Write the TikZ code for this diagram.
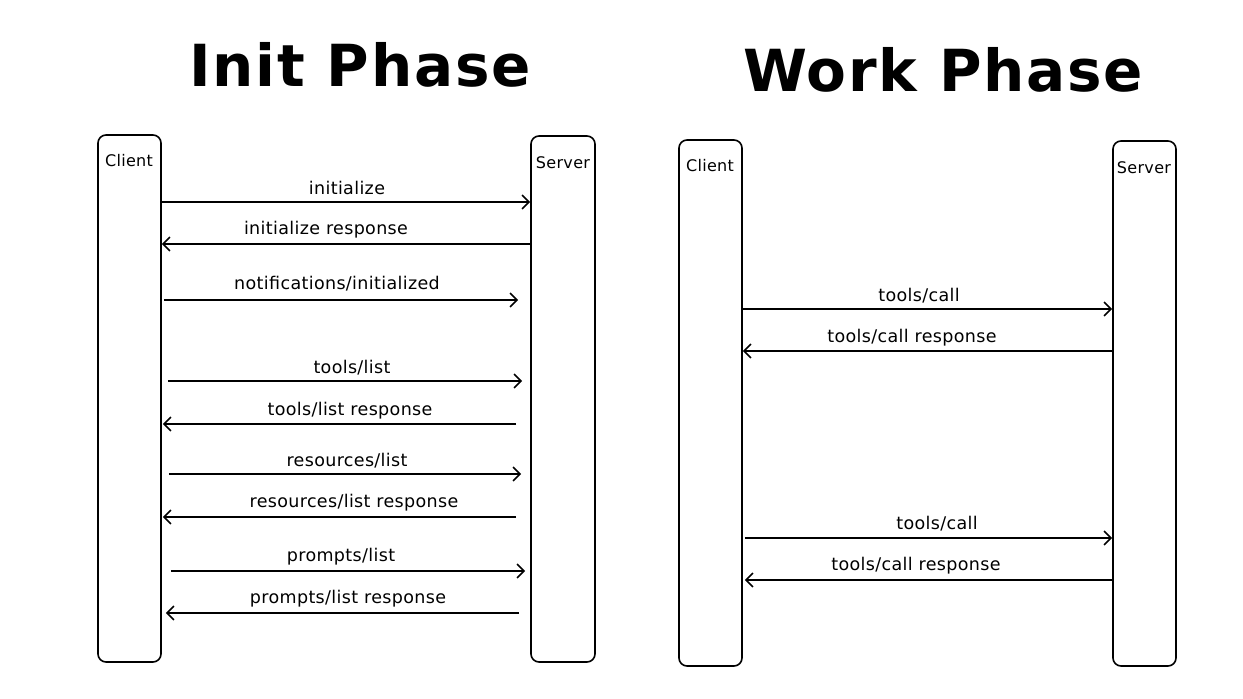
\documentclass[tikz,border=0pt]{standalone}
\usepackage{fontspec}
\setmainfont{DejaVu Sans}
\usetikzlibrary{arrows.meta}
\begin{document}
\begin{tikzpicture}[x=1pt,y=-1pt,
  life/.style={draw,line width=1.6pt,rounded corners=8pt,inner sep=0pt},
  msg/.style={line width=1.6pt,-{Straight Barb[length=7pt,width=14pt,line width=1.6pt]}},
  lbl/.style={font=\fontsize{17.5}{19}\selectfont\addfontfeature{LetterSpace=2},anchor=base},
  who/.style={font=\fontsize{16}{18}\selectfont\addfontfeature{LetterSpace=2}},
  ttl/.style={font=\fontsize{58}{64}\selectfont\bfseries\addfontfeature{LetterSpace=3}}]
\useasboundingbox (0,0) rectangle (1243,699);
\node[ttl] (t1) at (360,65) {Init Phase};
\node[ttl] (t2) at (943,70) {Work Phase};
\node[life,minimum width=63pt,minimum height=527pt] (c1) at (129.5,398.5) {};
\node[life,minimum width=64pt,minimum height=526pt] (s1) at (563,399) {};
\node[life,minimum width=63pt,minimum height=526pt] (c2) at (710.5,403) {};
\node[life,minimum width=63pt,minimum height=525pt] (s2) at (1144.5,403.5) {};
\node[who] (cl1) at (129,161) {Client};
\node[who] (sl1) at (563,163) {Server};
\node[who] (cl2) at (710,166) {Client};
\node[who] (sl2) at (1144,168) {Server};
% init arrows
\draw[msg] (c1.east |- 0,202) -- (s1.west |- 0,202);
\node[lbl] (l1) at (347,194) {initialize};
\draw[msg] (s1.west |- 0,244) -- (c1.east |- 0,244);
\node[lbl] (l2) at (326,234) {initialize response};
\draw[msg] ([xshift=2pt]c1.east |- 0,300) -- ([xshift=-12pt]s1.west |- 0,300);
\node[lbl] (l3) at (337,289) {notifications/initialized};
\draw[msg] ([xshift=6pt]c1.east |- 0,381) -- ([xshift=-8pt]s1.west |- 0,381);
\node[lbl] (l4) at (352,373) {tools/list};
\draw[msg] ([xshift=-14pt]s1.west |- 0,424) -- ([xshift=1pt]c1.east |- 0,424);
\node[lbl] (l5) at (350,415) {tools/list response};
\draw[msg] ([xshift=7pt]c1.east |- 0,474) -- ([xshift=-9pt]s1.west |- 0,474);
\node[lbl] (l6) at (347,466) {resources/list};
\draw[msg] ([xshift=-14pt]s1.west |- 0,517) -- ([xshift=1pt]c1.east |- 0,517);
\node[lbl] (l7) at (354,507) {resources/list response};
\draw[msg] ([xshift=9pt]c1.east |- 0,571) -- ([xshift=-5pt]s1.west |- 0,571);
\node[lbl] (l8) at (341,561) {prompts/list};
\draw[msg] ([xshift=-11pt]s1.west |- 0,613) -- ([xshift=4pt]c1.east |- 0,613);
\node[lbl] (l9) at (348,603) {prompts/list response};
% work arrows
\draw[msg] (c2.east |- 0,309) -- (s2.west |- 0,309);
\node[lbl] (w1) at (919,301) {tools/call};
\draw[msg] (s2.west |- 0,351) -- (c2.east |- 0,351);
\node[lbl] (w2) at (912,342) {tools/call response};
\draw[msg] ([xshift=2pt]c2.east |- 0,538) -- (s2.west |- 0,538);
\node[lbl] (w3) at (937,529) {tools/call};
\draw[msg] (s2.west |- 0,580) -- ([xshift=2pt]c2.east |- 0,580);
\node[lbl] (w4) at (916,570) {tools/call response};
\end{tikzpicture}
\end{document}
